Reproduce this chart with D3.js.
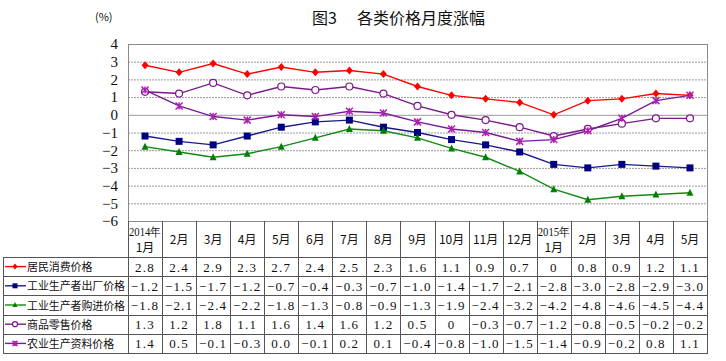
<!DOCTYPE html>
<html><head><meta charset="utf-8">
<script src="https://cdn.jsdelivr.net/npm/d3@7"></script>
<style>html,body{margin:0;padding:0;background:#fff;}</style>
</head><body>
<svg id="c" width="726" height="361"></svg>
<script>
const categories = ["2014年|1月","2月","3月","4月","5月","6月","7月","8月","9月","10月","11月","12月","2015年|1月","2月","3月","4月","5月"];
const cpi   = [2.8,2.4,2.9,2.3,2.7,2.4,2.5,2.3,1.6,1.1,0.9,0.7,0,0.8,0.9,1.2,1.1];
const ppi   = [-1.2,-1.5,-1.7,-1.2,-0.7,-0.4,-0.3,-0.7,-1.0,-1.4,-1.7,-2.1,-2.8,-3.0,-2.8,-2.9,-3.0];
const ppirm = [-1.8,-2.1,-2.4,-2.2,-1.8,-1.3,-0.8,-0.9,-1.3,-1.9,-2.4,-3.2,-4.2,-4.8,-4.6,-4.5,-4.4];
const rpi   = [1.3,1.2,1.8,1.1,1.6,1.4,1.6,1.2,0.5,0,-0.3,-0.7,-1.2,-0.8,-0.5,-0.2,-0.2];
const agri  = [1.4,0.5,-0.1,-0.3,0.0,-0.1,0.2,0.1,-0.4,-0.8,-1.0,-1.5,-1.4,-0.9,-0.2,0.8,1.1];
const cpiLabels   = ["2.8","2.4","2.9","2.3","2.7","2.4","2.5","2.3","1.6","1.1","0.9","0.7","0","0.8","0.9","1.2","1.1"];
const ppiLabels   = ["-1.2","-1.5","-1.7","-1.2","-0.7","-0.4","-0.3","-0.7","-1.0","-1.4","-1.7","-2.1","-2.8","-3.0","-2.8","-2.9","-3.0"];
const ppirmLabels = ["-1.8","-2.1","-2.4","-2.2","-1.8","-1.3","-0.8","-0.9","-1.3","-1.9","-2.4","-3.2","-4.2","-4.8","-4.6","-4.5","-4.4"];
const rpiLabels   = ["1.3","1.2","1.8","1.1","1.6","1.4","1.6","1.2","0.5","0","-0.3","-0.7","-1.2","-0.8","-0.5","-0.2","-0.2"];
const agriLabels  = ["1.4","0.5","-0.1","-0.3","0.0","-0.1","0.2","0.1","-0.4","-0.8","-1.0","-1.5","-1.4","-0.9","-0.2","0.8","1.1"];
const seriesNames = ["居民消费价格","工业生产者出厂价格","工业生产者购进价格","商品零售价格","农业生产资料价格"];
const yTicks = [4,3,2,1,0,-1,-2,-3,-4,-5,-6];
const titleNum = "图3";
const titleText = "各类价格月度涨幅";
const unitText = "(%)";

const series = [
  {name:seriesNames[0], values:cpi, labels:cpiLabels, color:"#ff0000", mcolor:"#ff0000", marker:"diamond"},
  {name:seriesNames[1], values:ppi, labels:ppiLabels, color:"#1a1a8c", mcolor:"#000080", marker:"square"},
  {name:seriesNames[2], values:ppirm, labels:ppirmLabels, color:"#138a13", mcolor:"#008000", marker:"triangle"},
  {name:seriesNames[3], values:rpi, labels:rpiLabels, color:"#7a1a8a", mcolor:"#7a1a8a", marker:"circle"},
  {name:seriesNames[4], values:agri, labels:agriLabels, color:"#7a1a9a", mcolor:"#b020b0", marker:"star"}
];

const svg = d3.select("#c");
const L = 128, R = 707, T = 44, B = 221;
const x = d3.scaleBand().domain(d3.range(categories.length)).range([L,R]);
const y = d3.scaleLinear().domain([-6,4]).range([B,T]);
const cx = i => x(i) + x.bandwidth()/2;

const serif = "'Liberation Serif','DejaVu Serif',serif";
const cjk = "'Noto Sans CJK SC','Noto Sans',sans-serif";

// title
svg.append("text").attr("x",312).attr("y",24).attr("font-family",cjk).attr("font-size",16).attr("fill","#111").text(titleNum);
svg.append("text").attr("x",357).attr("y",24).attr("font-family",cjk).attr("font-size",16).attr("fill","#111").text(titleText);
svg.append("text").attr("x",95).attr("y",21).attr("font-family",cjk).attr("font-size",11).attr("fill","#111").text(unitText);

// grid
svg.append("g").selectAll("line").data(yTicks.filter(v=>v!==-6 && v!==4)).join("line")
  .attr("x1",L).attr("x2",R).attr("y1",d=>y(d)+0.5).attr("y2",d=>y(d)+0.5)
  .attr("stroke","#9a9a9a").attr("stroke-width",1)
  .attr("stroke-dasharray",d=>d===0?null:"2,1");
// frame
svg.append("rect").attr("x",L+0.5).attr("y",T+0.5).attr("width",R-L).attr("height",B-T)
  .attr("fill","none").attr("stroke","#8a8a8a");

// y axis
const yAxis = d3.axisLeft(y).tickValues(yTicks).tickSize(0).tickPadding(10).tickFormat(d=>d<0?"−"+Math.abs(d):d);
const ya = svg.append("g").attr("transform",`translate(${L},0)`).call(yAxis);
ya.attr("font-family",serif);
ya.select(".domain").attr("stroke","#8a8a8a");
ya.selectAll("text").attr("font-family",serif).attr("font-size",15).attr("fill","#111");

// lines
const line = d3.line().x((d,i)=>cx(i)).y(d=>y(d));
series.forEach(s=>{
  svg.append("path").datum(s.values).attr("d",line).attr("fill","none").attr("stroke",s.color).attr("stroke-width",1.4);
});

function drawMarker(g, type, px, py, color, size){
  const h = size/2;
  if(type==="diamond"){
    g.append("path").attr("d",`M${px},${py-h-0.5}L${px+h},${py}L${px},${py+h+0.5}L${px-h},${py}Z`).attr("fill",color);
  } else if(type==="square"){
    g.append("rect").attr("x",px-h).attr("y",py-h).attr("width",size).attr("height",size).attr("fill",color);
  } else if(type==="triangle"){
    g.append("path").attr("d",`M${px},${py-h-0.5}L${px+h},${py+h-0.5}L${px-h},${py+h-0.5}Z`).attr("fill",color);
  } else if(type==="circle"){
    g.append("circle").attr("cx",px).attr("cy",py).attr("r",h).attr("fill","#fff").attr("stroke",color).attr("stroke-width",1.2);
  } else if(type==="star"){
    g.append("path").attr("d",`M${px-h},${py-h}L${px+h},${py+h}M${px+h},${py-h}L${px-h},${py+h}M${px},${py-h}L${px},${py+h}`)
      .attr("stroke",color).attr("stroke-width",1.5).attr("fill","none");
  }
}
series.forEach(s=>{
  const g = svg.append("g");
  s.values.forEach((v,i)=>drawMarker(g, s.marker, cx(i), y(v), s.mcolor, 7));
});

// table
const headTop = B, headBot = 257, rowH = 19.2;
const tableLeft = 3;
const tg = svg.append("g");
const bandEdges = d3.range(categories.length+1).map(i=> i<categories.length? x(i): R);
bandEdges.forEach(e=>{
  tg.append("line").attr("x1",Math.round(e)+0.5).attr("x2",Math.round(e)+0.5).attr("y1",headTop).attr("y2",headBot+rowH*5)
    .attr("stroke","#555").attr("stroke-width",1);
});
tg.append("line").attr("x1",tableLeft+0.5).attr("x2",tableLeft+0.5).attr("y1",headBot).attr("y2",headBot+rowH*5).attr("stroke","#555");
for(let r=0;r<=5;r++){
  const yy = Math.round(headBot + r*rowH)+0.5;
  tg.append("line").attr("x1",tableLeft).attr("x2",R+1).attr("y1",yy).attr("y2",yy).attr("stroke","#555");
}
categories.forEach((c,i)=>{
  const parts = c.split("|");
  if(parts.length===2){
    tg.append("text").attr("x",cx(i)).attr("y",236).attr("text-anchor","middle").attr("font-family",serif).attr("font-size",12).attr("fill","#111")
      .attr("textLength",32).attr("lengthAdjust","spacingAndGlyphs").text(parts[0]);
    tg.append("text").attr("x",cx(i)).attr("y",252).attr("text-anchor","middle").attr("font-family",cjk).attr("font-size",12).attr("fill","#111").text(parts[1]);
  } else {
    tg.append("text").attr("x",cx(i)).attr("y",244).attr("text-anchor","middle").attr("font-family",cjk).attr("font-size",12).attr("fill","#111").text(parts[0]);
  }
});
series.forEach((s,r)=>{
  const yc = headBot + r*rowH + rowH/2;
  tg.append("line").attr("x1",5).attr("x2",26).attr("y1",yc).attr("y2",yc).attr("stroke",s.color).attr("stroke-width",1.4);
  drawMarker(tg, s.marker, 15, yc, s.mcolor, 5);
  tg.append("text").attr("x",27).attr("y",yc+4.5).attr("font-family",cjk).attr("font-size",11).attr("fill","#111")
    .attr("textLength",s.name.length*10.9).attr("lengthAdjust","spacing").text(s.name);
  s.labels.forEach((lab,i)=>{
    tg.append("text").attr("x",cx(i)).attr("y",yc+5).attr("text-anchor","middle").attr("font-family",serif).attr("font-size",13)
      .attr("letter-spacing",1.2).attr("fill","#111").text(lab.replace("-","−"));
  });
});
</script>
</body></html>
